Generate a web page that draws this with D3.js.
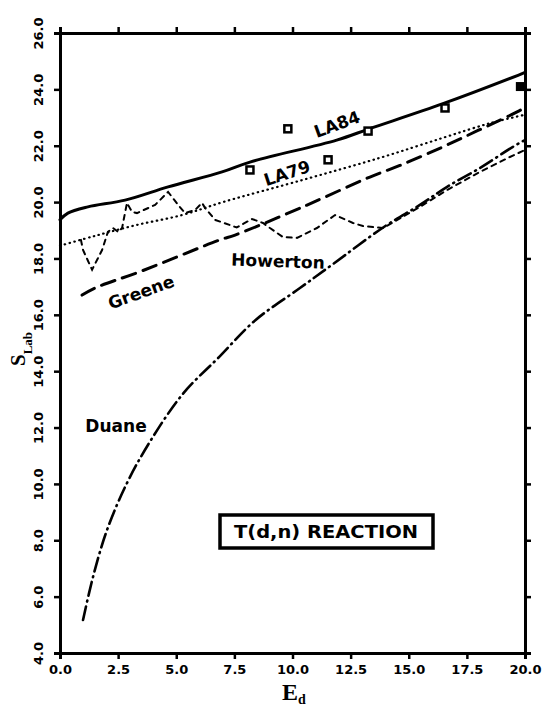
<!DOCTYPE html>
<html>
<head>
<meta charset="utf-8">
<script src="https://cdn.jsdelivr.net/npm/d3@7"></script>
<style>
  body { margin: 0; background: #fff; }
  svg { display: block; }
  .axis text { font-family: "DejaVu Sans", sans-serif; font-weight: bold; font-size: 13px; fill: #000; }
  .lbl { font-family: "DejaVu Sans", sans-serif; font-weight: bold; font-size: 17px; fill: #000; }
</style>
</head>
<body>
<svg></svg>
<script>
// tick values
var xTicks = [0, 2.5, 5, 7.5, 10, 12.5, 15, 17.5, 20];
var yTicks = [4, 6, 8, 10, 12, 14, 16, 18, 20, 22, 24, 26];

// curves, [E_d, S_lab]
var la84 = [[0, 19.37], [0.34, 19.61], [1.2, 19.83], [2.8, 20.07], [4.65, 20.54], [6.97, 21.07],
  [8.17, 21.42], [11.9, 22.2], [13.3, 22.6], [16.5, 23.5], [19.7, 24.5], [20, 24.6]];
var la79 = [[0, 18.45], [1.5, 18.8], [3.31, 19.19], [5.25, 19.54], [7.01, 20.0], [10.5, 20.8],
  [13.76, 21.57], [16.47, 22.28], [18.5, 22.8], [20, 23.1]];
var greene = [[0.95, 16.7], [1.5, 16.95], [3.5, 17.55], [6.88, 18.66], [7.53, 18.83], [10.5, 19.85],
  [13.33, 20.89], [14.62, 21.3], [16.47, 21.96], [18.0, 22.55], [19.66, 23.2], [20, 23.35]];
var howerton = [[0.9, 18.66], [0.99, 18.3], [1.38, 17.6], [1.81, 18.3], [2.06, 18.94], [2.28, 19.08],
  [2.5, 18.94], [2.67, 19.08], [2.88, 19.97], [3.1, 19.65], [3.31, 19.61], [4.09, 19.9], [4.65, 20.36],
  [5.08, 19.9], [5.38, 19.61], [5.81, 19.72], [6.11, 19.97], [6.24, 19.79], [6.67, 19.37], [7.6, 19.1],
  [8.26, 19.4], [8.73, 19.26], [9.03, 19.08], [9.59, 18.76], [10.19, 18.73], [11.05, 19.08],
  [11.83, 19.54], [12.6, 19.26], [13.03, 19.15], [13.9, 19.08], [15.48, 19.83], [16.65, 20.43],
  [18.06, 21.07], [19.35, 21.6], [20, 21.85]];
var duane = [[0.99, 5.17], [1.42, 6.7], [2.02, 8.36], [2.88, 10.03], [3.87, 11.5], [5.29, 13.2],
  [6.84, 14.5], [8.39, 15.8], [10.32, 16.95], [11.74, 17.8], [13.9, 19.1], [15.48, 19.9],
  [16.65, 20.54], [18.06, 21.21], [19.48, 21.96], [20, 22.2]];

// measured points
var la84Points = [[8.17, 21.14], [9.8, 22.6], [11.53, 21.5], [13.25, 22.52], [16.56, 23.34]];
var la84Filled = [[19.8, 24.1]];

var svg = d3.select("svg");
(margin = { top: 33, right: 25, bottom: 53, left: 60 }),
  (width = 550 - margin.left - margin.right),
  (height = 706 - margin.top - margin.bottom);

svg.attr("width", 550).attr("height", 706);

var xScale = d3.scaleLinear().domain([0, 20]).range([0, width]),
  yScale = d3.scaleLinear().domain([4, 26]).range([height, 0]);

var g = svg
  .append("g")
  .attr("transform", "translate(" + margin.left + "," + margin.top + ")");

var fmt = d3.format(".1f");

// bottom axis
g.append("g")
  .attr("class", "axis")
  .attr("transform", "translate(0," + height + ")")
  .call(d3.axisBottom(xScale).tickValues(xTicks).tickFormat(fmt).tickSize(6).tickPadding(6));

// top axis
g.append("g")
  .attr("class", "axis")
  .call(d3.axisTop(xScale).tickValues(xTicks).tickFormat("").tickSize(6));

// left axis, labels turned
g.append("g")
  .attr("class", "axis yleft")
  .call(d3.axisLeft(yScale).tickValues(yTicks).tickFormat(fmt).tickSize(6));

g.selectAll(".yleft .tick text")
  .attr("transform", "rotate(-90)")
  .attr("text-anchor", "middle")
  .attr("x", 0)
  .attr("y", -22)
  .attr("dy", "0.35em");

// right axis
g.append("g")
  .attr("class", "axis")
  .attr("transform", "translate(" + width + ",0)")
  .call(d3.axisRight(yScale).tickValues(yTicks).tickFormat("").tickSize(6));

g.selectAll(".axis .domain").attr("stroke", "#000").attr("stroke-width", 3);
g.selectAll(".axis .tick line").attr("stroke", "#000").attr("stroke-width", 2.5);

// drawing curves
var smooth = d3.line()
  .x(function(d) { return xScale(d[0]); })
  .y(function(d) { return yScale(d[1]); })
  .curve(d3.curveCatmullRom.alpha(0.5));

var jag = d3.line()
  .x(function(d) { return xScale(d[0]); })
  .y(function(d) { return yScale(d[1]); });

function addCurve(data, gen, w, dash) {
  g.append("path")
    .attr("d", gen(data))
    .attr("fill", "none")
    .attr("stroke", "#000")
    .attr("stroke-width", w)
    .attr("stroke-dasharray", dash)
    .attr("stroke-linecap", "round");
}

addCurve(la84, smooth, 3, null);
addCurve(la79, smooth, 2.2, "0.5 4.5");
addCurve(greene, smooth, 3, "14 8");
addCurve(howerton, jag, 2, "5 5");
addCurve(duane, smooth, 2.6, "14 5 1 5");

// data points
g.selectAll("rect.pt")
  .data(la84Points)
  .enter()
  .append("rect")
  .attr("class", "pt")
  .attr("x", function(d) { return xScale(d[0]) - 3.5; })
  .attr("y", function(d) { return yScale(d[1]) - 3.5; })
  .attr("width", 7)
  .attr("height", 7)
  .attr("fill", "#fff")
  .attr("stroke", "#000")
  .attr("stroke-width", 2.5);

g.selectAll("rect.ptf")
  .data(la84Filled)
  .enter()
  .append("rect")
  .attr("class", "ptf")
  .attr("x", function(d) { return xScale(d[0]) - 4.5; })
  .attr("y", function(d) { return yScale(d[1]) - 4.5; })
  .attr("width", 9)
  .attr("height", 9)
  .attr("fill", "#000");

// curve labels
var labels = [
  { t: "LA84", x: 337, y: 124, r: -20, s: 16 },
  { t: "LA79", x: 287, y: 173, r: -18, s: 16 },
  { t: "Greene", x: 141, y: 292, r: -20, s: 17 },
  { t: "Howerton", x: 278, y: 261, r: 2, s: 17 },
  { t: "Duane", x: 116, y: 426, r: 0, s: 16 }
];

svg.selectAll("text.lbl")
  .data(labels)
  .enter()
  .append("text")
  .attr("class", "lbl")
  .attr("text-anchor", "middle")
  .attr("dy", "0.36em")
  .attr("font-size", function(d) { return d.s + "px"; })
  .attr("transform", function(d) { return "translate(" + d.x + "," + d.y + ") rotate(" + d.r + ")"; })
  .text(function(d) { return d.t; });

// reaction box
svg.append("rect")
  .attr("x", 220)
  .attr("y", 515)
  .attr("width", 213)
  .attr("height", 33)
  .attr("fill", "#fff")
  .attr("stroke", "#000")
  .attr("stroke-width", 3.5);

svg.append("text")
  .attr("class", "lbl")
  .attr("x", 326)
  .attr("y", 538)
  .attr("text-anchor", "middle")
  .attr("font-size", "18px")
  .attr("textLength", 184)
  .attr("lengthAdjust", "spacingAndGlyphs")
  .text("T(d,n) REACTION");

// axis titles
var ylab = svg.append("text")
  .attr("transform", "translate(25,366) rotate(-90)")
  .attr("font-family", "Liberation Serif, serif")
  .attr("font-weight", "bold")
  .attr("font-size", "21px");
ylab.append("tspan").text("S");
ylab.append("tspan").attr("dy", "7").attr("font-size", "13px").text("Lab");

var xlab = svg.append("text")
  .attr("x", 282)
  .attr("y", 700)
  .attr("font-family", "Liberation Serif, serif")
  .attr("font-weight", "bold")
  .attr("font-size", "24px");
xlab.append("tspan").text("E");
xlab.append("tspan").attr("dy", "4").attr("font-size", "14px").text("d");
</script>
</body>
</html>
